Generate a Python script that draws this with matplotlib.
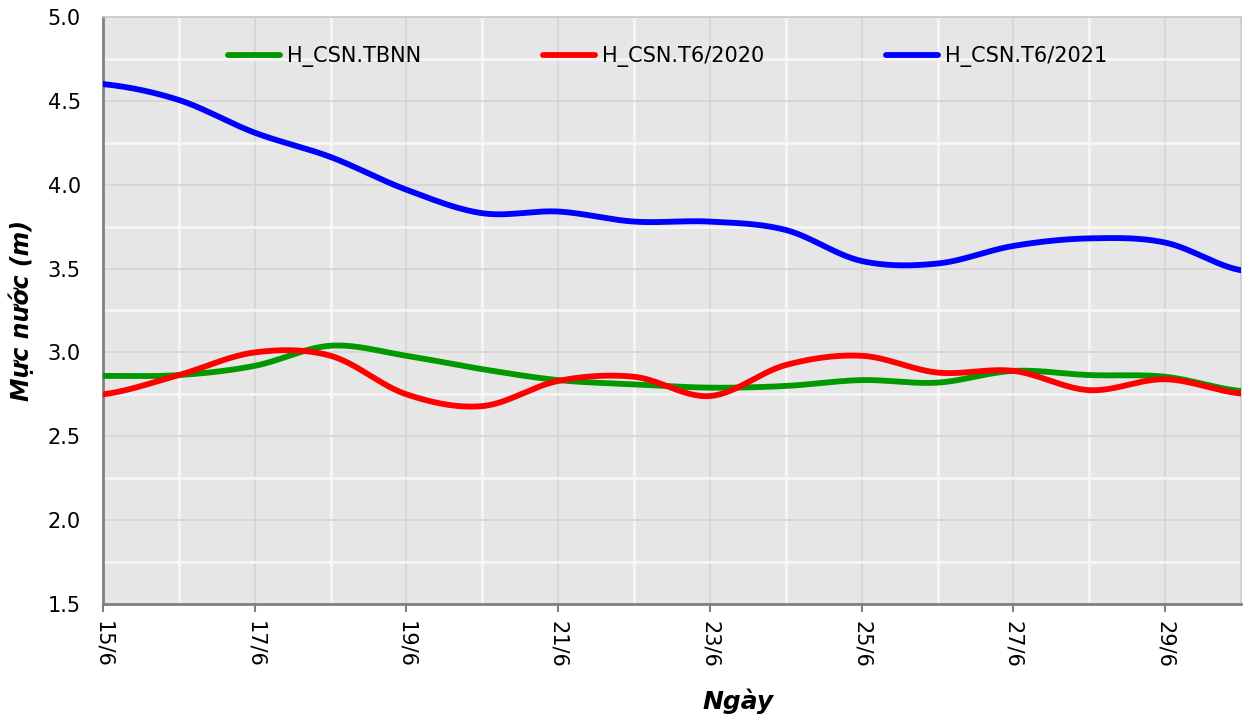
import numpy as np
import matplotlib
matplotlib.use("Agg")
import matplotlib.pyplot as plt
from matplotlib.ticker import MultipleLocator, FixedLocator, FixedFormatter

# ---- data ----
days = ["15/6", "16/6", "17/6", "18/6", "19/6", "20/6", "21/6", "22/6",
        "23/6", "24/6", "25/6", "26/6", "27/6", "28/6", "29/6", "30/6"]
tbnn = [2.86, 2.865, 2.92, 3.04, 2.98, 2.90, 2.835, 2.81,
        2.79, 2.80, 2.835, 2.82, 2.89, 2.865, 2.855, 2.77]
t6_2020 = [2.75, 2.865, 3.00, 2.98, 2.75, 2.68, 2.83, 2.855,
           2.74, 2.925, 2.98, 2.88, 2.89, 2.775, 2.84, 2.755]
t6_2021 = [4.60, 4.505, 4.31, 4.165, 3.97, 3.83, 3.84, 3.78,
           3.78, 3.73, 3.545, 3.53, 3.635, 3.68, 3.655, 3.49]
series_names = ["H_CSN.TBNN", "H_CSN.T6/2020", "H_CSN.T6/2021"]
series_colors = ["#009900", "#ff0000", "#0000ff"]


def smooth(y, n=30):
    """Catmull-Rom smoothing (like a spreadsheet 'smoothed line')."""
    y = np.asarray(y, float)
    x = np.arange(len(y), dtype=float)
    p = np.concatenate([[y[0]], y, [y[-1]]])
    xs, ys = [], []
    t = np.linspace(0, 1, n, endpoint=False)
    for i in range(len(y) - 1):
        p0, p1, p2, p3 = p[i], p[i + 1], p[i + 2], p[i + 3]
        seg = 0.5 * ((2 * p1) + (-p0 + p2) * t + (2 * p0 - 5 * p1 + 4 * p2 - p3) * t ** 2
                     + (-p0 + 3 * p1 - 3 * p2 + p3) * t ** 3)
        xs.append(x[i] + t)
        ys.append(seg)
    xs.append([x[-1]])
    ys.append([y[-1]])
    return np.concatenate(xs), np.concatenate(ys)


plt.rcParams['font.family'] = ['DejaVu Sans']
fig = plt.figure(figsize=(12.44, 7.16), dpi=100)
ax = fig.add_axes([0.0828, 0.1564, 0.9148, 0.8199])
ax.set_facecolor("#e6e6e6")

for vals, name, col in zip([tbnn, t6_2020, t6_2021], series_names, series_colors):
    xs, ys = smooth(vals)
    ax.plot(xs, ys, color=col, lw=4.2, label=name, solid_capstyle='round', zorder=3)

ax.set_xlim(0, len(days) - 1)
ax.set_ylim(1.5, 5.0)

major_x = list(range(0, len(days), 2))
ax.xaxis.set_major_locator(FixedLocator(major_x))
ax.xaxis.set_major_formatter(FixedFormatter([days[i] for i in major_x]))
ax.xaxis.set_minor_locator(FixedLocator(list(range(1, len(days), 2))))
ax.yaxis.set_major_locator(MultipleLocator(0.5))
ax.yaxis.set_minor_locator(MultipleLocator(0.25))
ax.yaxis.set_major_formatter(matplotlib.ticker.FormatStrFormatter('%.1f'))

ax.grid(which='major', color='#d4d4d4', lw=1.2, zorder=1)
ax.grid(which='minor', color='#f6f6f6', lw=2.0, zorder=1)
ax.set_axisbelow(True)

ax.tick_params(axis='x', which='major', direction='out', length=6, width=1.5,
               color='#808080', labelsize=15, labelrotation=270, pad=6)
ax.tick_params(axis='x', which='minor', length=0)
ax.tick_params(axis='y', which='both', length=0, labelsize=15, pad=16)

for s in ['left', 'bottom']:
    ax.spines[s].set_color('#808080')
    ax.spines[s].set_linewidth(2)
for s in ['top', 'right']:
    ax.spines[s].set_color('#c8c8c8')
    ax.spines[s].set_linewidth(1.2)

ax.set_ylabel("Mực nước (m)", fontsize=17, fontweight='bold', fontstyle='italic')
ax.yaxis.set_label_coords(-0.061, 0.5)
ax.set_xlabel("Ngày", fontsize=18, fontweight='bold', fontstyle='italic', va='center')
ax.xaxis.set_label_coords(0.558, -0.165)

leg = ax.legend(ncol=3, loc='center left', bbox_to_anchor=(0.110, 0.932), frameon=False,
                fontsize=15, handlelength=2.5, handletextpad=0.33, columnspacing=5.85,
                borderaxespad=0, borderpad=0)
for lh in leg.get_lines():
    lh.set_linewidth(4.2)

fig.savefig("out.png", dpi=100)
